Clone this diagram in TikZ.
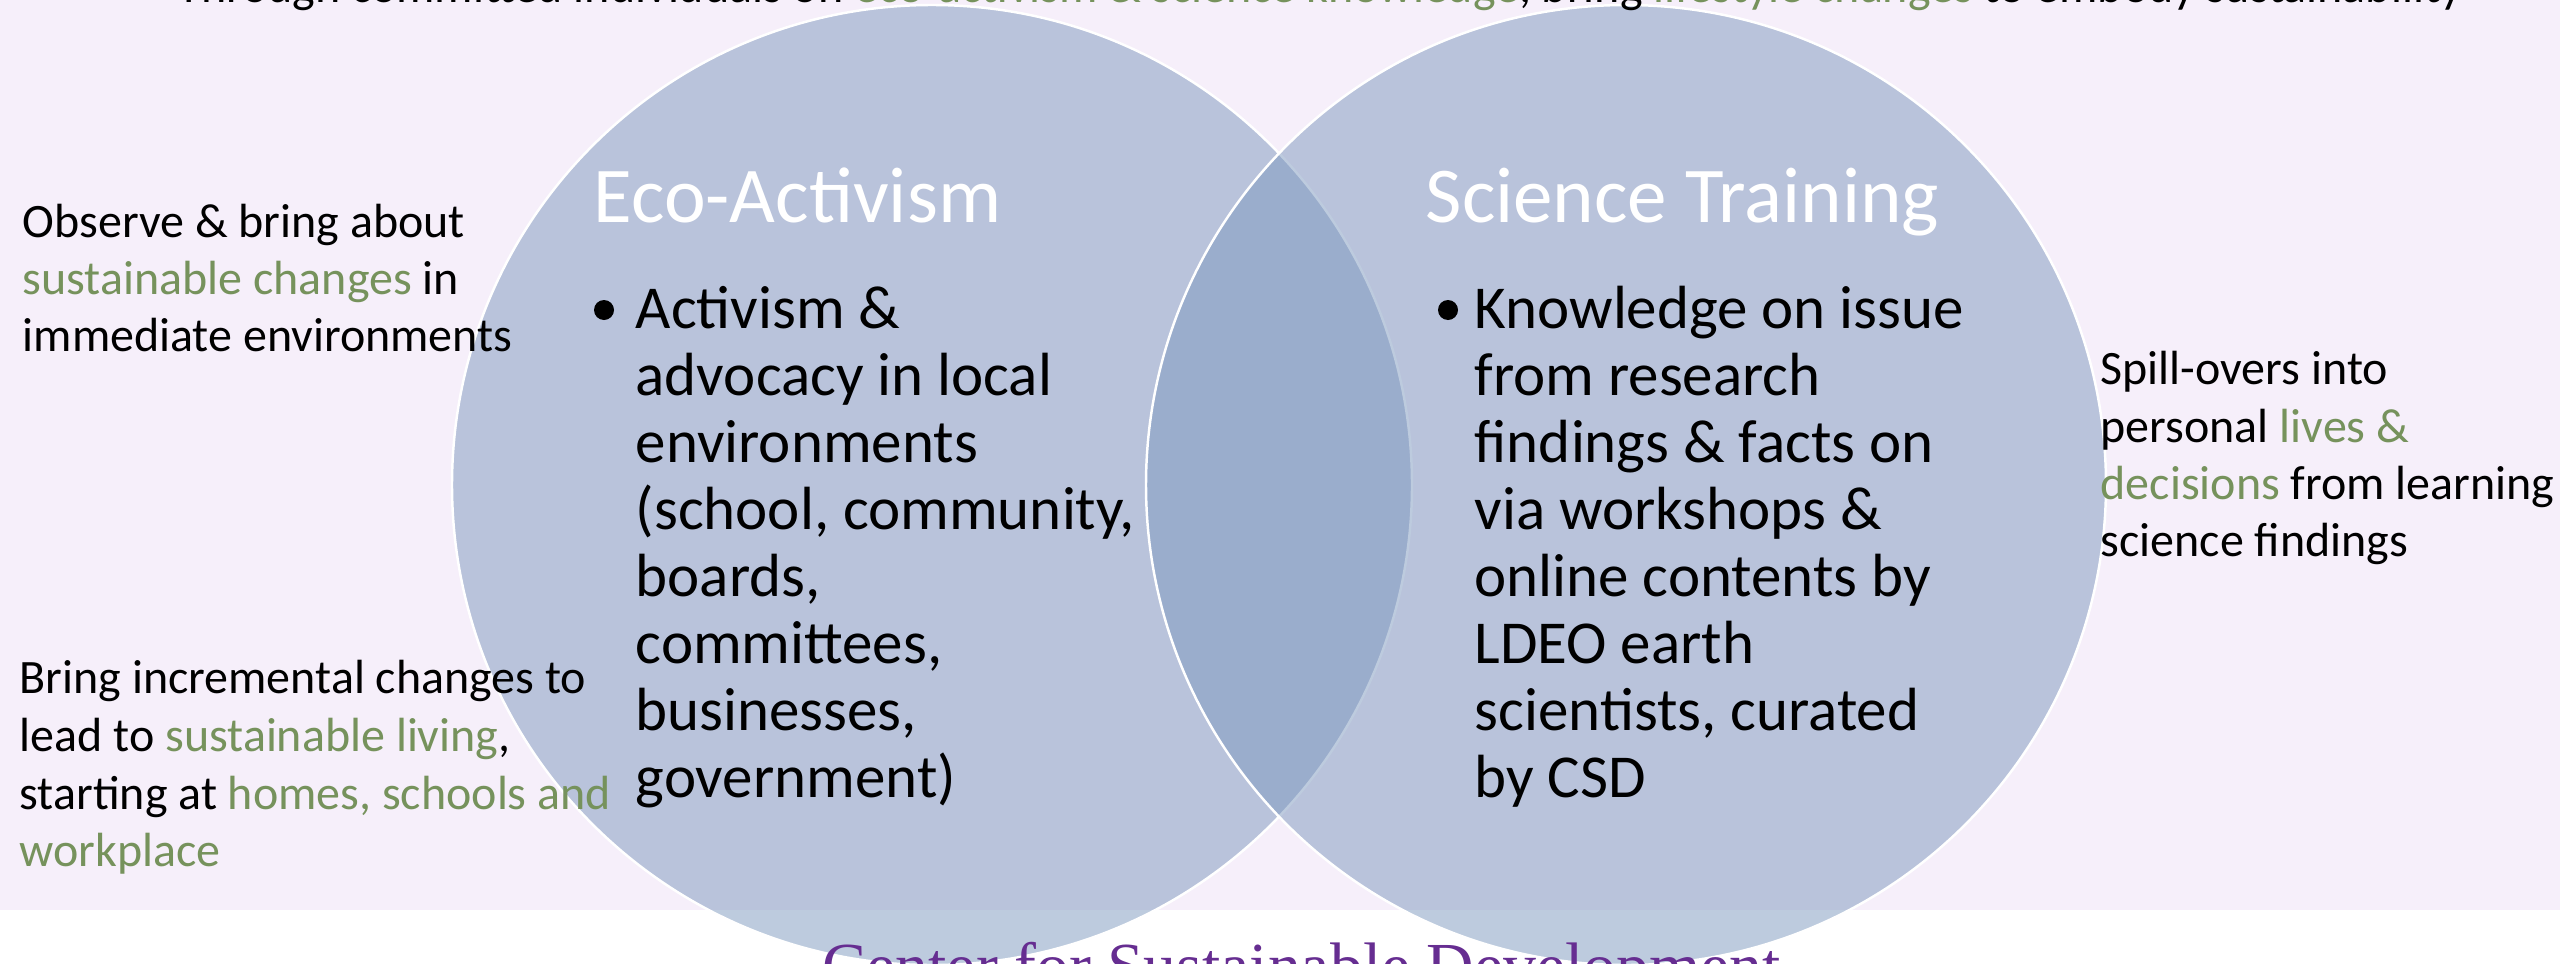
\documentclass[tikz,border=0pt]{standalone}
\usepackage{fontspec}
\setmainfont{Carlito}
\newfontfamily\logofont{Liberation Serif}
\usepackage{tikz}
\usepackage{xcolor}

\definecolor{fondo}{RGB}{246,239,250}
\definecolor{circulo}{RGB}{125,152,190}
\definecolor{verde}{RGB}{118,146,92}
\definecolor{morado}{RGB}{102,45,145}
\newcommand{\vd}[1]{\textcolor{verde}{#1}}

\begin{document}
\begin{tikzpicture}[
  conjunto/.style={circle, minimum size=9.6cm, inner sep=0pt, fill=circulo, fill opacity=0.5, draw=white, line width=0.7pt},
  titulo/.style={anchor=base west, inner sep=0pt, text=white, font=\fontsize{22.5}{27}\selectfont},
  punto/.style={circle, fill=black, minimum size=0.2cm, inner sep=0pt},
  cuerpo/.style={anchor=base west, align=left, inner sep=0pt, font=\fontsize{17.35}{19.06}\selectfont},
  lado/.style={anchor=base west, align=left, inner sep=0pt, font=\fontsize{13.65}{16.2}\selectfont}
]
\useasboundingbox (0,0) rectangle (25.6,9.63);
\clip (0,0) rectangle (25.6,9.63);

% Fondo de la diapositiva
\fill[fondo] (0,0.53) rectangle (25.6,9.63);
\fill[white] (0,0) rectangle (25.6,0.53);

% Los dos conjuntos del diagrama
\node[conjunto] (eco) at (9.32,4.78) {};
\node[conjunto] (sci) at (16.26,4.78) {};

% Titulos
\node[titulo] (ecotit) at (5.93,7.41) {Eco-Activism};
\node[titulo] (scitit) at (14.25,7.41) {Science Training};

% Vinetas y texto dentro de cada circulo (base = ultima linea)
\node[punto] (ecobul) at (6.04,6.53) {};
\node[cuerpo] (ecotxt) at (6.35,1.66) {Activism \&\\advocacy in local\\environments\\(school, community,\\boards,\\committees,\\businesses,\\government)};
\node[punto] (scibul) at (14.48,6.53) {};
\node[cuerpo] (scitxt) at (14.74,1.66) {Knowledge on issue\\from research\\findings \& facts on\\via workshops \&\\online contents by\\LDEO earth\\scientists, curated\\by CSD};

% Textos laterales
\node[lado] (obs) at (0.22,6.113) {Observe \& bring about\\\vd{sustainable changes} in\\immediate environments};
\node[lado, font=\fontsize{13.65}{16.4}\selectfont] (inc) at (0.19,0.963) {Bring incremental changes to\\lead to \vd{sustainable living},\\starting at \vd{homes, schools and}\\\vd{workplace}};
\node[lado, font=\fontsize{13.65}{16.3}\selectfont] (spill) at (21.0,4.063) {Spill-overs into\\personal \vd{lives \&}\\\vd{decisions} from learning\\science findings};

% Frase superior (cortada por el borde)
\node[lado] (lema) at (1.77,9.605) {Through committed individuals on \vd{eco-activism \& science knowledge}, bring \vd{lifestyle changes} to embody sustainability};

% Logo inferior (cortado por el borde)
\node[anchor=base west, inner sep=0pt, text=morado, font=\logofont\fontsize{18.7}{22}\selectfont] (logo) at (8.22,-0.256) {Center for Sustainable Development};

\end{tikzpicture}
\end{document}
